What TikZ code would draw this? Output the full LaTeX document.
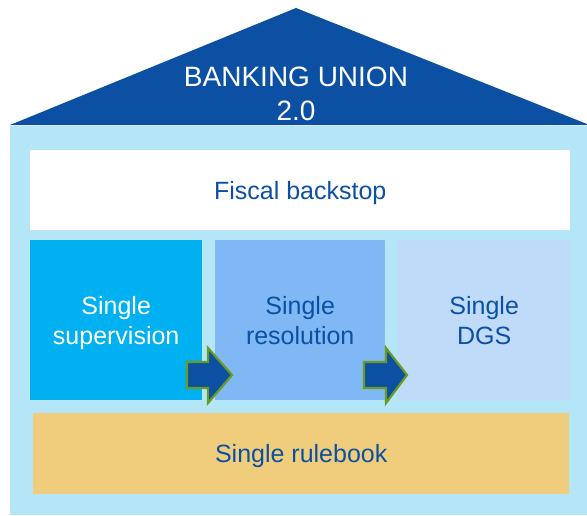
\documentclass[tikz,border=0pt]{standalone}
\usepackage{fontspec}
\setmainfont{Liberation Sans}
\usetikzlibrary{positioning, calc}
\definecolor{roofBlue}{HTML}{0B50A3}
\definecolor{houseBlue}{HTML}{B4E6F8}
\definecolor{pillarA}{HTML}{00B0F0}
\definecolor{pillarB}{HTML}{80B7F5}
\definecolor{pillarC}{HTML}{C0DBF9}
\definecolor{ruleGold}{HTML}{EFCD7D}
\definecolor{arrowGreen}{HTML}{6A9A1E}

\tikzset{
  layer/.style={anchor=north west, inner sep=0pt, font=\fontsize{25}{30}\selectfont,
    text=roofBlue, align=center, text depth=0pt},
  pushArrow/.style={fill=roofBlue, draw=arrowGreen, line width=2.2pt, line join=miter}
}

\begin{document}
\begin{tikzpicture}[x=1pt, y=-1pt]
  \useasboundingbox (0,0) rectangle (587,515);
  % roof and walls
  \fill[roofBlue] (10,125) -- (296,8) -- (587,124) -- (587,125) -- cycle;
  \fill[houseBlue] (10,126) rectangle (587,515);
  \node[text=white, align=center, font=\fontsize{28}{34}\selectfont] (roof) at (296,94) {BANKING UNION\\2.0};
  % floors
  \node[layer, fill=white, minimum width=540pt, minimum height=80pt] (backstop) at (30,150) {Fiscal backstop};
  \node[layer, fill=pillarA, text=white, minimum width=172pt, minimum height=160pt] (supervision) at (30,240) {Single\\supervision};
  \node[layer, fill=pillarB, minimum width=170pt, minimum height=160pt] (resolution) at (215,240) {Single\\resolution};
  \node[layer, fill=pillarC, minimum width=172pt, minimum height=160pt] (dgs) at (398,240) {Single\\DGS};
  \node[layer, fill=ruleGold, minimum width=536pt, minimum height=81pt] (rulebook) at (33,413) {Single rulebook};
  % arrows between the pillars
  \foreach \tail/\neck/\tip in {187/208/232, 364/386/407}
    \draw[pushArrow] (\tail,362) -- (\neck,362) -- (\neck,348) -- (\tip,375)
      -- (\neck,403) -- (\neck,388) -- (\tail,388) -- cycle;
\end{tikzpicture}
\end{document}
